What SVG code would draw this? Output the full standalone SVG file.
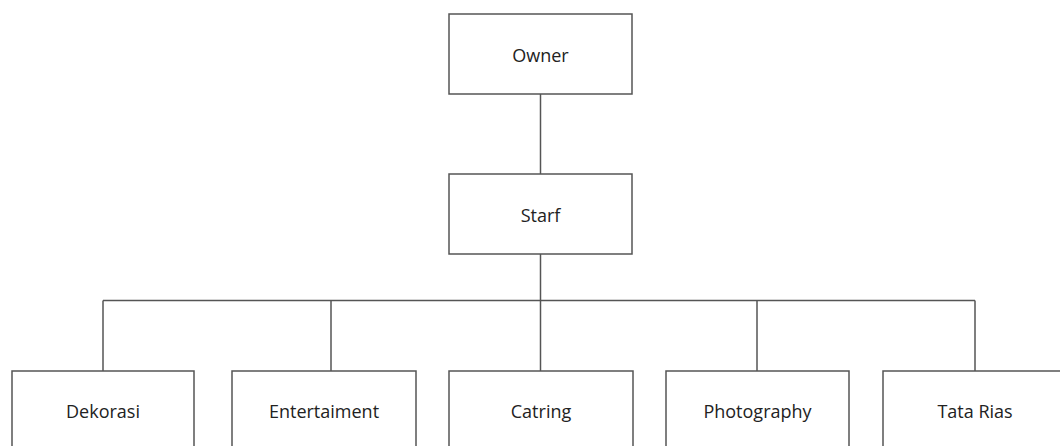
<svg xmlns="http://www.w3.org/2000/svg" width="1060" height="446" viewBox="0 0 1060 446">
<style>
.box{fill:#fff;stroke:#555;stroke-width:1.5}
.lbl{font-family:"Open Sans","Noto Sans",sans-serif;font-size:18px;fill:#222;text-anchor:middle}
.conn{fill:none;stroke:#555;stroke-width:1.5}
</style>
<rect width="1060" height="446" fill="#fff"/>
<g id="connectors">
<path class="conn" d="M540.5 94V174"/>
<path class="conn" d="M540.5 254V300.5"/>
<path class="conn" d="M103 300.5H975"/>
<path class="conn" d="M103 300.5V371"/>
<path class="conn" d="M331 300.5V371"/>
<path class="conn" d="M540.5 300.5V371"/>
<path class="conn" d="M757 300.5V371"/>
<path class="conn" d="M975 300.5V371"/>
</g>
<g id="owner"><rect class="box" x="449" y="14" width="183" height="80"/><text class="lbl" x="540.5" y="62">Owner</text></g>
<g id="starf"><rect class="box" x="449" y="174" width="183" height="80"/><text class="lbl" x="540.5" y="222">Starf</text></g>
<g id="dekorasi"><rect class="box" x="12" y="371" width="182" height="90"/><text class="lbl" x="103" y="418">Dekorasi</text></g>
<g id="entertaiment"><rect class="box" x="232" y="371" width="184" height="90"/><text class="lbl" x="324" y="418">Entertaiment</text></g>
<g id="catring"><rect class="box" x="449" y="371" width="184" height="90"/><text class="lbl" x="541" y="418">Catring</text></g>
<g id="photography"><rect class="box" x="666" y="371" width="183" height="90"/><text class="lbl" x="757.5" y="418">Photography</text></g>
<g id="tatarias"><rect class="box" x="883" y="371" width="184" height="90"/><text class="lbl" x="975" y="418">Tata Rias</text></g>
</svg>
